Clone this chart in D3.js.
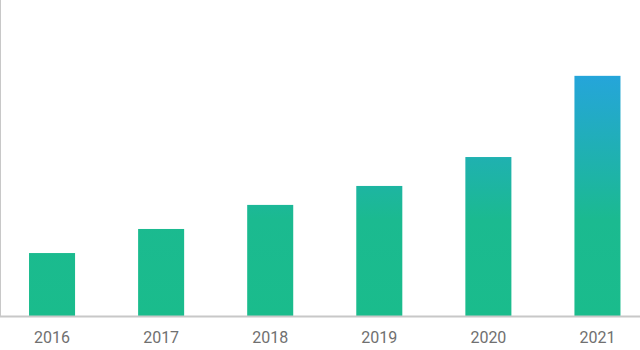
<!DOCTYPE html>
<html><head><meta charset="utf-8">
<script src="https://cdn.jsdelivr.net/npm/d3@7"></script>
<style>html,body{margin:0;padding:0;background:#fff;}svg{display:block;}</style>
</head><body>
<svg id="chart" width="640" height="350"></svg>
<script>
const years = ["2016","2017","2018","2019","2020","2021"];
const values = [2.59, 3.58, 4.57, 5.35, 6.54, 9.88];
const yMax = 13;

const svg = d3.select("#chart");
const baseY = 316;
const x = d3.scaleBand().domain(years).range([-2.5, 652]).paddingInner(0.578).paddingOuter(0.289);
const y = d3.scaleLinear().domain([0, yMax]).range([baseY, 0]);

const defs = svg.append("defs");
const grad = defs.append("linearGradient").attr("id","g").attr("gradientUnits","userSpaceOnUse")
  .attr("x1",0).attr("x2",0).attr("y1",y(0)).attr("y2",y(d3.max(values)));
grad.append("stop").attr("offset","0").attr("stop-color","#1abc8c");
grad.append("stop").attr("offset","0.4").attr("stop-color","#1bba90");
grad.append("stop").attr("offset","1").attr("stop-color","#25a5da");

svg.append("g").selectAll("rect").data(values).join("rect")
  .attr("x",(d,i)=>x(years[i]))
  .attr("width",x.bandwidth())
  .attr("y",d=>y(d))
  .attr("height",d=>y(0)-y(d))
  .attr("fill","url(#g)");

// left axis line
svg.append("line").attr("x1",0.5).attr("x2",0.5).attr("y1",0).attr("y2",baseY).attr("stroke","#c8c8c8");

const ax = svg.append("g").attr("transform",`translate(0,${baseY})`)
  .call(d3.axisBottom(x).tickSize(0).tickPadding(15.6));
ax.select(".domain").attr("d","M0,0.5H640").attr("stroke","#c8c8c8").attr("stroke-width",2);
ax.selectAll("text").attr("font-family","Roboto").attr("font-size",16).attr("fill","#707070");
</script>
</body></html>
